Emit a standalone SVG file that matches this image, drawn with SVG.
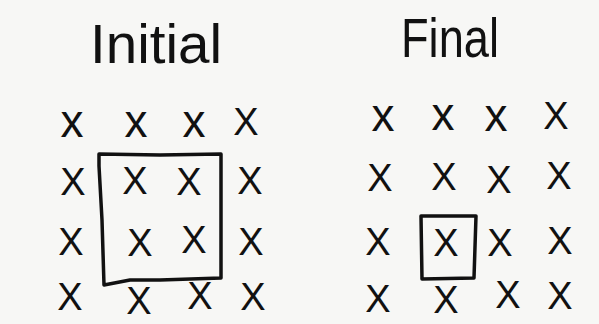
<svg xmlns="http://www.w3.org/2000/svg" width="599" height="324" viewBox="0 0 599 324">
<style>
.bg{fill:#f7f7f5}
.title{font-family:"Liberation Sans",Arial,sans-serif;font-size:56px;font-weight:300;fill:#111}
.m{font-family:"Liberation Sans",Arial,sans-serif;font-size:38px;font-weight:300;fill:#111;text-anchor:middle;dominant-baseline:central}
.s{font-size:46px}
.box{fill:none;stroke:#111;stroke-width:3.5;stroke-linejoin:round;stroke-linecap:round}
</style>
<rect class="bg" x="0" y="0" width="599" height="324"/>
<g id="title-initial"><text class="title" x="90" y="63" textLength="132" lengthAdjust="spacingAndGlyphs">Initial</text></g>
<g id="title-final"><text class="title" x="401" y="57" textLength="98" lengthAdjust="spacingAndGlyphs">Final</text></g>
<g id="grid-initial">
<text class="m s" x="72" y="121">x</text>
<text class="m s" x="136" y="121">x</text>
<text class="m s" x="194" y="121">x</text>
<text class="m" x="246" y="122">X</text>
<text class="m" x="73" y="182">X</text>
<text class="m" x="135" y="181">X</text>
<text class="m" x="189" y="182">X</text>
<text class="m" x="250" y="181">X</text>
<text class="m" x="71" y="242">X</text>
<text class="m" x="140" y="243">X</text>
<text class="m" x="194" y="240">X</text>
<text class="m" x="251" y="242">X</text>
<text class="m" x="70" y="297">X</text>
<text class="m" x="139" y="301">X</text>
<text class="m" x="200" y="296">X</text>
<text class="m" x="253" y="297">X</text>
</g>
<g id="box-initial"><path class="box" d="M99 166 L99 154 L160 155 L221 154 L221 217 L221 278 L160 280 L130 280 L104 285 L102 220 Z"/></g>
<g id="grid-final">
<text class="m s" x="383" y="115">x</text>
<text class="m s" x="443" y="114">x</text>
<text class="m s" x="496" y="115">x</text>
<text class="m" x="556" y="116">X</text>
<text class="m" x="380" y="178">X</text>
<text class="m" x="444" y="177">X</text>
<text class="m" x="499" y="180">X</text>
<text class="m" x="559" y="176">X</text>
<text class="m" x="378" y="242">X</text>
<text class="m" x="446" y="243">X</text>
<text class="m" x="500" y="243">X</text>
<text class="m" x="560" y="241">X</text>
<text class="m" x="378" y="299">X</text>
<text class="m" x="446" y="300">X</text>
<text class="m" x="508" y="295">X</text>
<text class="m" x="560" y="296">X</text>
</g>
<g id="box-final"><path class="box" d="M421 216 L476 216 L474 278 L422 279 Z"/></g>
</svg>
